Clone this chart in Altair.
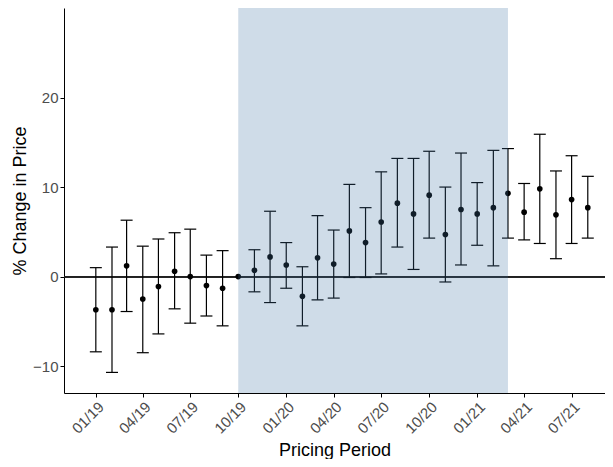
import pandas as pd
import altair as alt

# monthly pricing periods (first of month)
periods = [
    "2019-01-01", "2019-02-01", "2019-03-01", "2019-04-01", "2019-05-01", "2019-06-01",
    "2019-07-01", "2019-08-01", "2019-09-01", "2019-10-01", "2019-11-01", "2019-12-01",
    "2020-01-01", "2020-02-01", "2020-03-01", "2020-04-01", "2020-05-01", "2020-06-01",
    "2020-07-01", "2020-08-01", "2020-09-01", "2020-10-01", "2020-11-01", "2020-12-01",
    "2021-01-01", "2021-02-01", "2021-03-01", "2021-04-01", "2021-05-01", "2021-06-01",
    "2021-07-01", "2021-08-01",
]
estimate = [-3.7, -3.7, 1.2, -2.5, -1.1, 0.6, 0.0, -1.0, -1.3, 0.0, 0.7, 2.2,
            1.3, -2.2, 2.1, 1.4, 5.1, 3.8, 6.1, 8.2, 7.0, 9.1, 4.7, 7.5,
            7.0, 7.7, 9.3, 7.2, 9.8, 6.9, 8.6, 7.7]
lower = [-8.4, -10.7, -3.9, -8.5, -6.4, -3.6, -5.2, -4.4, -5.5, None, -1.7, -2.9,
         -1.3, -5.5, -2.6, -2.4, -0.1, -0.1, 0.3, 3.3, 0.8, 4.3, -0.6, 1.3,
         3.5, 1.2, 4.3, 4.1, 3.7, 2.0, 3.7, 4.3]
upper = [1.0, 3.3, 6.3, 3.4, 4.2, 4.9, 5.3, 2.4, 2.9, None, 3.0, 7.3,
         3.8, 1.1, 6.8, 5.2, 10.3, 7.7, 11.7, 13.2, 13.2, 14.0, 10.0, 13.8,
         10.5, 14.1, 14.3, 10.4, 15.9, 11.8, 13.5, 11.2]

tick_dates = ["2019-01-01", "2019-04-01", "2019-07-01", "2019-10-01", "2020-01-01",
              "2020-04-01", "2020-07-01", "2020-10-01", "2021-01-01", "2021-04-01",
              "2021-07-01"]
shade_start = ["2019-10-01"]
shade_end = ["2021-03-01"]
x_limits = ["2018-11-01", "2021-09-03"]


def ms(d):
    return int(pd.Timestamp(d).value // 10**6)


df = pd.DataFrame({"period": periods, "estimate": estimate, "lower": lower, "upper": upper})
shade = pd.DataFrame({"start": shade_start, "end": shade_end})

x_scale = alt.Scale(type="utc", domain=[ms(d) for d in x_limits])
y_scale = alt.Scale(domain=[-13, 30], nice=False)

x_enc = alt.X(
    "period:T",
    scale=x_scale,
    title="Pricing Period",
    axis=alt.Axis(values=[ms(d) for d in tick_dates], format="%m/%y",
                  labelAngle=-45, labelAlign="right", labelBaseline="top",
                  titleBaseline="alphabetic", titleY=62),
)

base = alt.Chart(df).encode(x=x_enc)

# horizontal reference line at 0
zero_line = alt.Chart(df).mark_rule(color="#222222", strokeWidth=1).encode(y=alt.datum(0, scale=y_scale))

bars = base.transform_filter("isValid(datum.lower)").mark_rule(color="black", strokeWidth=1.2).encode(
    y=alt.Y("lower:Q", scale=y_scale, title="% Change in Price",
            axis=alt.Axis(values=[-10, 0, 10, 20], titlePadding=3)),
    y2="upper:Q",
)

caps_lo = base.transform_filter("isValid(datum.lower)").mark_tick(
    orient="horizontal", size=12, thickness=1.2, color="black", opacity=1
).encode(y=alt.Y("lower:Q", scale=y_scale))

caps_hi = base.transform_filter("isValid(datum.upper)").mark_tick(
    orient="horizontal", size=12, thickness=1.2, color="black", opacity=1
).encode(y=alt.Y("upper:Q", scale=y_scale))

points = base.mark_circle(size=32, color="black", opacity=1).encode(
    y=alt.Y("estimate:Q", scale=y_scale)
)

# shaded period drawn on top, semi-transparent
band = alt.Chart(shade).mark_rect(color="#3F73A3", opacity=0.25).encode(
    x=alt.X("start:T", scale=x_scale),
    x2="end:T",
)

chart = (zero_line + bars + caps_lo + caps_hi + points + band).properties(
    width=541,
    height=385,
    autosize="none",
    padding={"left": 56, "top": 0, "right": 0, "bottom": 66},
).configure_view(
    stroke=None
).configure_axis(
    grid=False,
    domainColor="black",
    domainWidth=1,
    tickColor="black",
    tickSize=4,
    labelColor="#4D4D4D",
    labelFont="Liberation Sans",
    labelFontSize=15,
    labelPadding=2,
    titleFont="Liberation Sans",
    titleFontSize=18,
    titleFontWeight="normal",
    titleColor="black",
)

chart.save("out.html", embed_options={"renderer": "svg", "actions": False})
